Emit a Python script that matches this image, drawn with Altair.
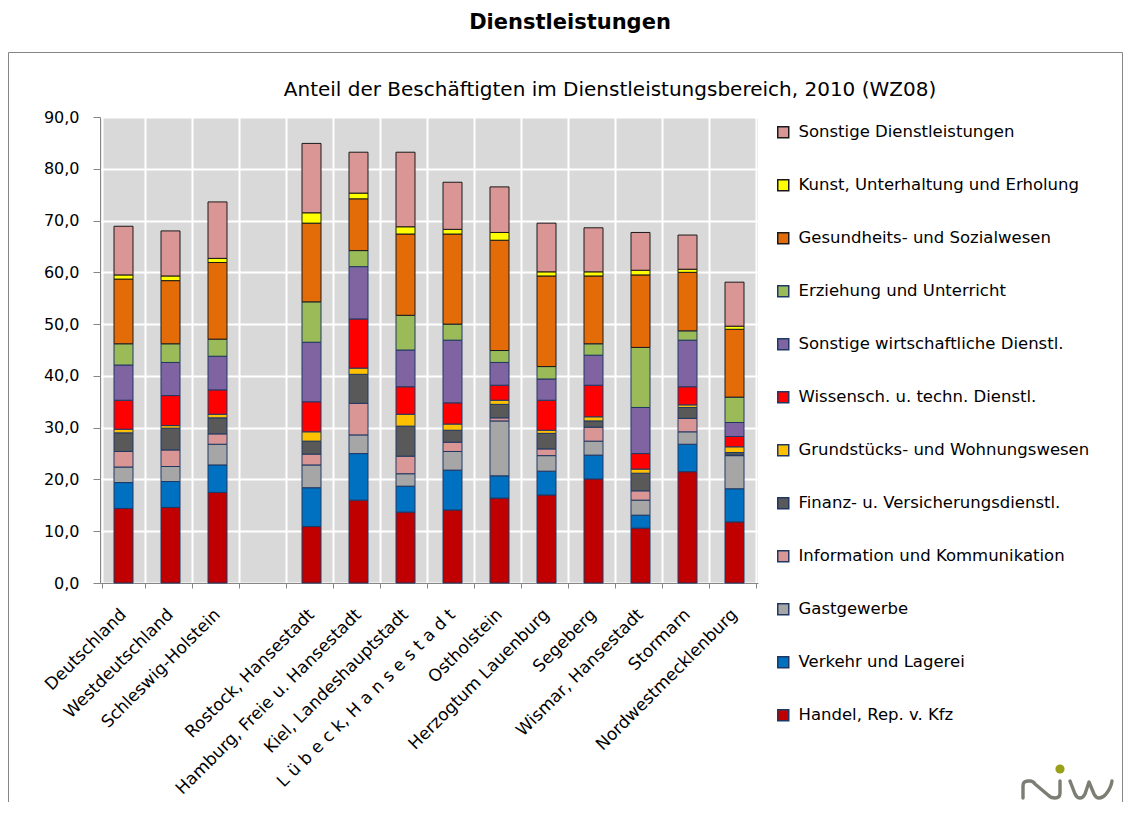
import altair as alt
import pandas as pd
import base64

# Categories (x axis); the blank entry is the empty slot in the original chart
regions = ["Deutschland", "Westdeutschland", "Schleswig-Holstein", " ",
           "Rostock, Hansestadt", "Hamburg, Freie u. Hansestadt",
           "Kiel, Landeshauptstadt", "L ü b e c k, H a n s e s t a d t",
           "Ostholstein", "Herzogtum Lauenburg", "Segeberg",
           "Wismar, Hansestadt", "Stormarn", "Nordwestmecklenburg"]
data_regions = [r for r in regions if r.strip()]

# Sectors, bottom of the stack to top
sectors = ["Handel, Rep. v. Kfz", "Verkehr und Lagerei", "Gastgewerbe",
           "Information und Kommunikation", "Finanz- u. Versicherungsdienstl.",
           "Grundstücks- und Wohnungswesen", "Wissensch. u. techn. Dienstl.",
           "Sonstige wirtschaftliche Dienstl.", "Erziehung und Unterricht",
           "Gesundheits- und Sozialwesen", "Kunst, Unterhaltung und Erholung",
           "Sonstige Dienstleistungen"]

# Values per sector, in order of data_regions
handel    = [14.4, 14.6, 17.5, 10.9, 16.0, 13.7, 14.1, 16.4, 17.0, 20.1, 10.6, 21.5, 11.8]
verkehr   = [5.0, 5.0, 5.3, 7.5, 9.0, 5.0, 7.7, 4.3, 4.6, 4.6, 2.5, 5.3, 6.4]
gast      = [3.0, 2.9, 4.0, 4.4, 3.6, 2.4, 3.6, 10.6, 3.0, 2.7, 2.9, 2.4, 6.4]
info      = [3.0, 3.2, 2.0, 2.1, 6.1, 3.4, 1.8, 0.6, 1.3, 2.7, 1.8, 2.6, 0.1]
finanz    = [3.6, 4.2, 3.1, 2.5, 5.6, 5.8, 2.3, 2.6, 3.0, 1.2, 3.4, 2.1, 0.5]
grund     = [0.7, 0.5, 0.7, 1.8, 1.2, 2.3, 1.2, 0.8, 0.6, 0.8, 0.8, 0.5, 1.1]
wiss      = [5.6, 5.8, 4.7, 5.8, 9.5, 5.3, 4.1, 2.9, 5.8, 6.1, 3.0, 3.5, 2.0]
sonstwirt = [6.8, 6.4, 6.5, 11.5, 10.1, 7.1, 12.1, 4.4, 4.1, 5.8, 8.9, 9.0, 2.7]
erziehung = [4.1, 3.6, 3.3, 7.8, 3.1, 6.7, 3.1, 2.3, 2.4, 2.2, 11.6, 1.8, 4.9]
gesundh   = [12.5, 12.2, 14.8, 15.2, 10.0, 15.7, 17.4, 21.3, 17.5, 13.1, 14.0, 11.3, 13.1]
kunst     = [0.8, 0.9, 0.8, 2.0, 1.1, 1.4, 0.9, 1.5, 0.8, 0.8, 0.9, 0.6, 0.6]
sonstdl   = [9.4, 8.7, 10.9, 13.4, 7.9, 14.4, 9.1, 8.8, 9.4, 8.5, 7.3, 6.6, 8.5]

series = [handel, verkehr, gast, info, finanz, grund, wiss, sonstwirt,
          erziehung, gesundh, kunst, sonstdl]

fill_colors = ["#c00000", "#0070c0", "#a6a6a6", "#da9694", "#595959", "#ffc000",
               "#ff0000", "#8064a2", "#9bbb59", "#e36c09", "#ffff00", "#da9694"]
stroke_colors = ["#1f3864"] * 9 + ["#1a1a1a"] * 3

rows = []
for i, (s, vals) in enumerate(zip(sectors, series)):
    for r, v in zip(data_regions, vals):
        rows.append({"region": r, "sector": s, "value": v, "order": i})
df = pd.DataFrame(rows)

legend_domain = sectors[::-1]
legend_fill = fill_colors[::-1]
legend_stroke = stroke_colors[::-1]

FONT = "DejaVu Sans"

bars = alt.Chart(df).mark_bar(size=19, strokeWidth=1).encode(
    x=alt.X("region:N", sort=regions, scale=alt.Scale(domain=regions),
            axis=alt.Axis(title=None, labelAngle=-45, labelAlign="right",
                          labelBaseline="top", labelFontSize=17, labelFont=FONT,
                          labelColor="black", labelPadding=18, labelOffset=-6,
                          labelLimit=400,
                          tickBand="extent", tickSize=5, tickColor="#868686",
                          domainColor="#868686", grid=True, gridColor="white",
                          gridWidth=2)),
    y=alt.Y("value:Q", stack="zero",
            scale=alt.Scale(domain=[0, 90], nice=False),
            axis=alt.Axis(title=None, values=list(range(0, 91, 10)),
                          labelExpr="replace(format(datum.value, '.1f'), '.', ',')",
                          labelFontSize=16, labelFont=FONT, labelColor="black",
                          labelPadding=14, tickSize=7, tickColor="#868686",
                          domainColor="#868686", grid=True, gridColor="white",
                          gridWidth=2)),
    color=alt.Color("sector:N", scale=alt.Scale(domain=legend_domain, range=legend_fill),
                    legend=alt.Legend(title=None, orient="none", legendX=675, legendY=7,
                                      symbolType="square", symbolSize=121,
                                      symbolStrokeColor="#1f2f5f", symbolStrokeWidth=1.5,
                                      labelFontSize=16.5, labelFont=FONT, labelColor="black",
                                      labelOffset=7, rowPadding=35, labelLimit=400)),
    stroke=alt.Stroke("sector:N", scale=alt.Scale(domain=legend_domain, range=legend_stroke),
                      legend=None),
    order=alt.Order("order:Q", sort="ascending"),
)

title_df = pd.DataFrame({"t": ["Dienstleistungen"]})
sub_df = pd.DataFrame({"t": ["Anteil der Beschäftigten im Dienstleistungsbereich, 2010 (WZ08)"]})
box_df = pd.DataFrame({"k": [1]})

# Logo (graphic, not text) as an inline SVG image
logo_svg = (
    '<svg xmlns="http://www.w3.org/2000/svg" width="96" height="38" viewBox="0 0 96 38">'
    '<g fill="none" stroke="#7b7e72" stroke-width="3.4" stroke-linecap="round" stroke-linejoin="round">'
    '<path d="M3,35 L3,23 Q3,18 8,18 L10,18 Q13,18 15,21 L28,32 Q31,35 35,35 Q40,35 40,30 L40,18"/>'
    '<path d="M50,18 L55,31 Q57,35 60,35 Q63,35 65,31 L69,19 L74,31 Q76,35 79,35 Q83,35 86,31 Q91,25 92,18"/>'
    '</g>'
    '<circle cx="40" cy="6" r="4.6" fill="#9aa01a"/>'
    '</svg>'
)
logo_url = "data:image/svg+xml;base64," + base64.b64encode(logo_svg.encode("utf-8")).decode("ascii")
logo_df = pd.DataFrame({"url": [logo_url]})

title = alt.Chart(title_df).mark_text(font=FONT, fontSize=21, fontWeight="bold",
                                      color="black", align="center", baseline="middle").encode(
    text="t:N", x=alt.value(470), y=alt.value(-94))
subtitle = alt.Chart(sub_df).mark_text(font=FONT, fontSize=20, color="black",
                                       align="center", baseline="middle").encode(
    text="t:N", x=alt.value(510), y=alt.value(-27))
box = alt.Chart(box_df).mark_rect(fill=None, stroke="#868686", strokeWidth=1).encode(
    x=alt.value(-91.5), x2=alt.value(1022.5), y=alt.value(-64.5), y2=alt.value(700))
logo = alt.Chart(logo_df).mark_image(width=96, height=38, align="left", baseline="top",
                                     aspect=False).encode(
    url="url:N", x=alt.value(920), y=alt.value(646))

chart = alt.layer(box, title, subtitle, logo, bars).properties(
    width=658, height=466,
    padding={"left": 92, "top": 109, "right": 366, "bottom": 219},
    autosize=alt.AutoSizeParams(type="none"),
).configure_view(fill="#d9d9d9", stroke=None)

chart.save("out.html", embed_options={"renderer": "svg", "actions": False})
